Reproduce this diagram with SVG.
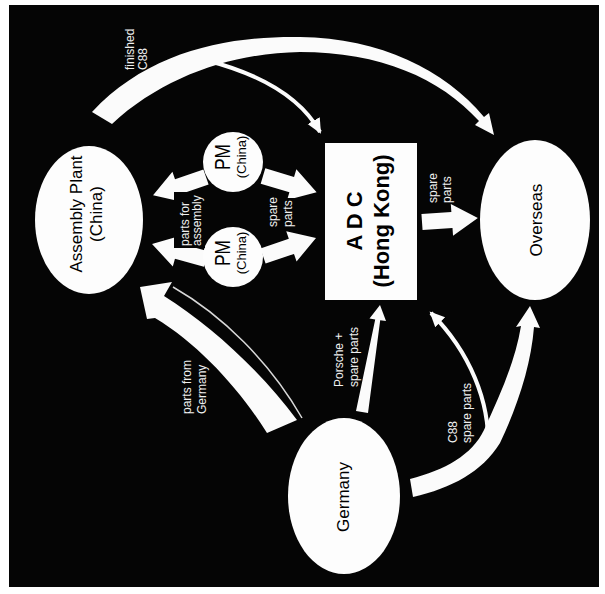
<svg xmlns="http://www.w3.org/2000/svg" xmlns:xlink="http://www.w3.org/1999/xlink" width="605" height="594" viewBox="0 0 605 594">
<style>
  .node { fill: #fdfdfd; }
  .ntext { font-family: "Liberation Sans", Arial, sans-serif; fill: #000; }
  .lbl { font-family: "Liberation Sans", Arial, sans-serif; fill: #f0f0f0; font-size: 12px; }
  .lblbg { fill: #050505; }
  .flow { fill: #fbfbfb; }
  .thin { fill: none; stroke: #fbfbfb; stroke-width: 4; }
</style>
<defs>
  <marker id="ah" markerUnits="userSpaceOnUse" markerWidth="16" markerHeight="16" viewBox="0 0 16 16" refX="13" refY="8" orient="auto">
    <path d="M0,1 L15,8 L0,15 z" fill="#fbfbfb"/>
  </marker>
  <polygon id="blk" points="0,-8 30,-8 30,-16 56,0 30,16 30,8 0,8"/>
</defs>
<rect x="0" y="0" width="605" height="594" fill="#ffffff"/>
<rect x="9" y="5" width="590" height="582" fill="#050505"/>

<g id="connectors">
  <!-- finished C88: Assembly -> Overseas, branch to ADC -->
  <path class="flow" d="M 92,112 C 150,50 230,36 300,37 C 380,38 445,70 484,117 L 489,113 L 494,135 L 475,125 L 479,121 C 440,78 380,52 300,52 C 235,53 165,75 112,124 Z"/>
  <path class="thin" d="M 205,60 Q 292,82 320,132" marker-end="url(#ah)"/>
  <!-- PM -> Assembly Plant -->
  <use xlink:href="#blk" class="flow" transform="translate(206,177) rotate(161)"/>
  <use xlink:href="#blk" class="flow" transform="translate(206,259) rotate(195.5)"/>
  <!-- PM -> ADC -->
  <use xlink:href="#blk" class="flow" transform="translate(263,176) rotate(16.8)"/>
  <use xlink:href="#blk" class="flow" transform="translate(263,256) rotate(-18.8)"/>
  <!-- ADC -> Overseas -->
  <use xlink:href="#blk" class="flow" transform="translate(422,222) rotate(-4)"/>
  <!-- Germany -> ADC -->
  <polygon class="flow" points="356,411 368,413 380.2,320.2 386,321 380,305 369.5,318.6 375.2,319.4"/>
  <!-- Germany -> Overseas, branch to ADC -->
  <path class="flow" d="M 410,479 C 445,470 472,455 484,430 C 500,395 515,362 521,326 L 516,327 L 530,306 L 540,328 L 534,327 C 531,365 518,405 500,443 C 482,472 452,488 413,497 Z"/>
  <path class="thin" d="M 488,448 C 490,402 470,352 431,313" marker-end="url(#ah)"/>
  <!-- Germany -> Assembly Plant -->
  <path class="flow" d="M 267,433 C 240,390 200,345 155,318 L 147,319 L 140,287 L 172,282 L 164,296 C 210,325 260,370 297,420 Z"/>
  <path fill="none" stroke="#d8d8d8" stroke-width="1.5" d="M 173,287 C 222,315 270,362 302,418"/>
</g>

<g id="assembly-plant">
  <ellipse class="node" cx="89" cy="220" rx="54" ry="74"/>
  <text class="ntext" font-size="17" text-anchor="middle" transform="translate(88,214) rotate(-90)"><tspan x="0" y="-6">Assembly Plant</tspan><tspan x="0" y="14">(China)</tspan></text>
</g>

<g id="pm-top">
  <circle class="node" cx="233" cy="162" r="30"/>
  <text class="ntext" text-anchor="middle" transform="translate(233,157) rotate(-90)"><tspan x="0" y="-3" font-size="22" textLength="26" lengthAdjust="spacingAndGlyphs">PM</tspan><tspan x="0" y="13" font-size="13">(China)</tspan></text>
</g>

<g id="pm-bottom">
  <circle class="node" cx="233" cy="257" r="30"/>
  <text class="ntext" text-anchor="middle" transform="translate(233,253) rotate(-90)"><tspan x="0" y="-3" font-size="22" textLength="26" lengthAdjust="spacingAndGlyphs">PM</tspan><tspan x="0" y="13" font-size="13">(China)</tspan></text>
</g>

<g id="adc">
  <rect class="node" x="325" y="143" width="92" height="157"/>
  <text class="ntext" font-size="22" font-weight="bold" text-anchor="middle" transform="translate(371,221) rotate(-90)"><tspan x="0" y="-9">A D C</tspan><tspan x="0" y="18">(Hong Kong)</tspan></text>
</g>

<g id="overseas">
  <ellipse class="node" cx="535" cy="220" rx="55" ry="80"/>
  <text class="ntext" font-size="17" text-anchor="middle" transform="translate(542,220) rotate(-90)">Overseas</text>
</g>

<g id="germany">
  <ellipse class="node" cx="344" cy="496" rx="56" ry="78"/>
  <text class="ntext" font-size="17" text-anchor="middle" transform="translate(349,497) rotate(-90)">Germany</text>
</g>

<g id="labels">
  <rect class="lblbg" x="174" y="192" width="31" height="56"/>
  <rect class="lblbg" x="266" y="198" width="30" height="32"/>
  <text class="lbl" transform="translate(134,70) rotate(-90)"><tspan x="0" y="0">finished</tspan><tspan x="0" y="13">C88</tspan></text>
  <text class="lbl" font-size="13" transform="translate(189,246) rotate(-90)"><tspan x="0" y="0">parts for</tspan><tspan x="0" y="12">assembly</tspan></text>
  <text class="lbl" transform="translate(277,227) rotate(-90)"><tspan x="0" y="0">spare</tspan><tspan x="0" y="15">parts</tspan></text>
  <text class="lbl" transform="translate(437,203) rotate(-90)"><tspan x="0" y="0">spare</tspan><tspan x="0" y="14">parts</tspan></text>
  <text class="lbl" font-size="13" transform="translate(343,387) rotate(-90)"><tspan x="0" y="0">Porsche +</tspan><tspan x="0" y="15">spare parts</tspan></text>
  <text class="lbl" font-size="12.5" transform="translate(457,443) rotate(-90)"><tspan x="0" y="0">C88</tspan><tspan x="0" y="14">spare parts</tspan></text>
  <text class="lbl" font-size="13" transform="translate(191,414) rotate(-90)"><tspan x="0" y="0">parts from</tspan><tspan x="0" y="15">Germany</tspan></text>
</g>
</svg>
